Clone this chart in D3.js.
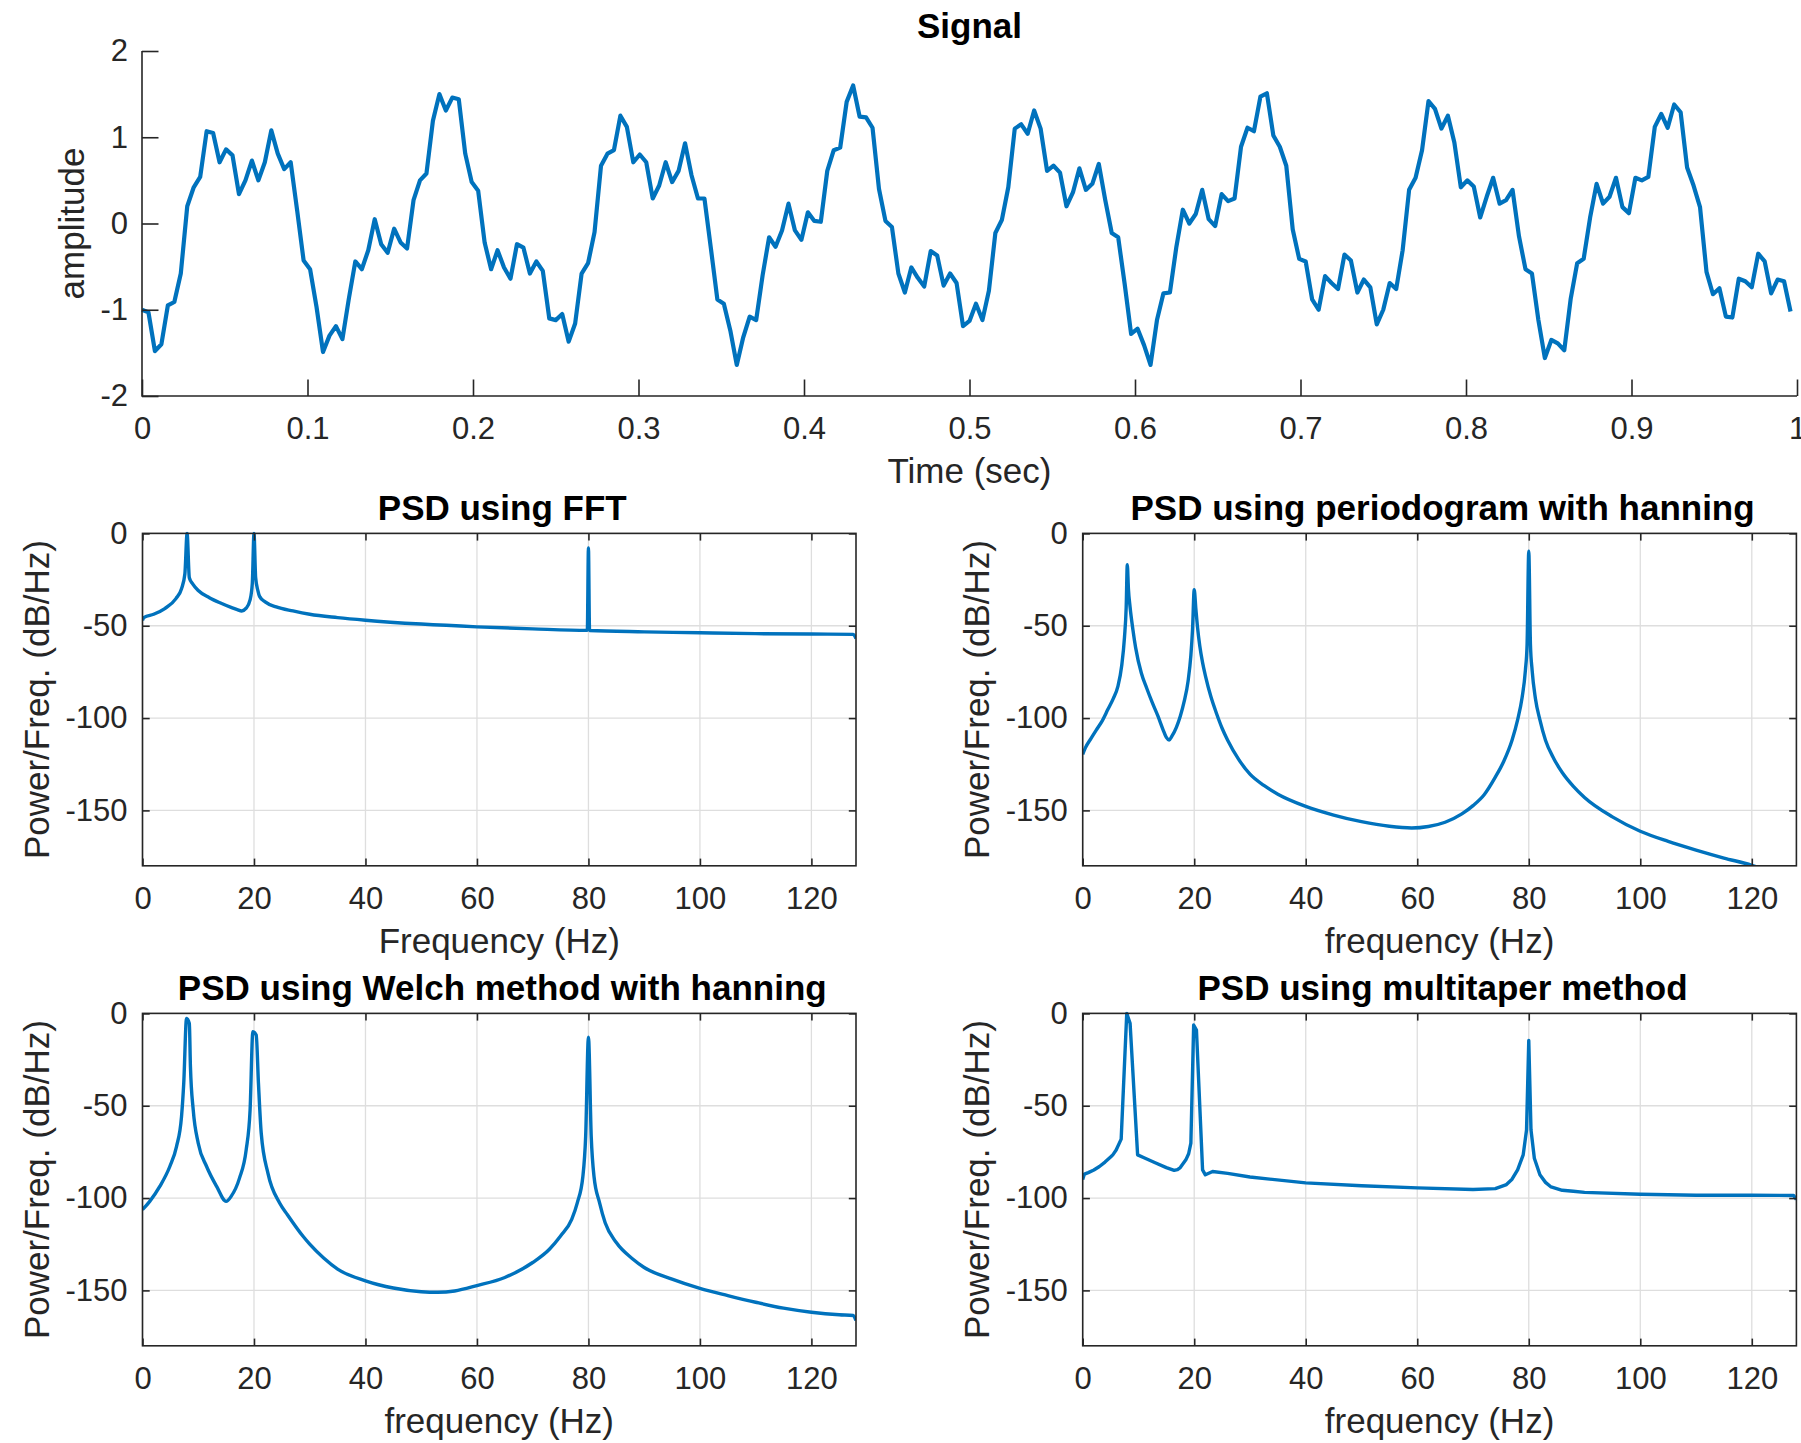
<!DOCTYPE html>
<html>
<head>
<meta charset="utf-8">
<script src="https://cdn.jsdelivr.net/npm/d3@7"></script>
<style>
  html, body { margin: 0; padding: 0; background: #fff; }
  svg { display: block; }
</style>
</head>
<body>
<svg id="chart" width="1801" height="1443"></svg>
<script>
// ---- Time-domain signal: 256 samples at 256 Hz ----
const sampleRate = 256;
const signalValues = [
  -1.00, -1.03, -1.48, -1.40, -0.95, -0.91, -0.58, 0.20, 0.42, 0.54,
  1.07, 1.05, 0.71, 0.86, 0.79, 0.34, 0.50, 0.73, 0.50, 0.71,
  1.08, 0.81, 0.63, 0.71, 0.15, -0.43, -0.53, -0.97, -1.49, -1.30,
  -1.19, -1.34, -0.87, -0.44, -0.53, -0.31, 0.05, -0.24, -0.34, -0.06,
  -0.22, -0.29, 0.27, 0.50, 0.58, 1.19, 1.50, 1.31, 1.46, 1.44,
  0.81, 0.48, 0.38, -0.22, -0.53, -0.31, -0.51, -0.64, -0.24, -0.28,
  -0.58, -0.44, -0.55, -1.10, -1.12, -1.05, -1.37, -1.16, -0.58, -0.46,
  -0.10, 0.67, 0.81, 0.85, 1.25, 1.12, 0.71, 0.80, 0.71, 0.29,
  0.44, 0.71, 0.48, 0.61, 0.93, 0.56, 0.29, 0.29, -0.29, -0.88,
  -0.93, -1.24, -1.64, -1.32, -1.08, -1.12, -0.60, -0.16, -0.27, -0.08,
  0.23, -0.08, -0.19, 0.13, 0.03, 0.02, 0.61, 0.85, 0.88, 1.41,
  1.60, 1.24, 1.23, 1.11, 0.40, 0.03, -0.04, -0.58, -0.80, -0.51,
  -0.63, -0.73, -0.32, -0.37, -0.72, -0.58, -0.69, -1.19, -1.13, -0.93,
  -1.12, -0.78, -0.11, 0.04, 0.42, 1.10, 1.15, 1.04, 1.31, 1.10,
  0.61, 0.67, 0.59, 0.20, 0.36, 0.64, 0.39, 0.46, 0.69, 0.27,
  -0.11, -0.16, -0.70, -1.28, -1.22, -1.41, -1.64, -1.12, -0.81, -0.80,
  -0.27, 0.16, 0.00, 0.11, 0.39, 0.05, -0.03, 0.34, 0.26, 0.29,
  0.89, 1.11, 1.07, 1.47, 1.51, 1.02, 0.89, 0.67, -0.07, -0.41,
  -0.44, -0.88, -1.00, -0.61, -0.69, -0.76, -0.36, -0.43, -0.80, -0.65,
  -0.74, -1.17, -1.00, -0.69, -0.76, -0.31, 0.39, 0.53, 0.85, 1.42,
  1.33, 1.10, 1.25, 0.94, 0.42, 0.50, 0.43, 0.07, 0.31, 0.53,
  0.23, 0.27, 0.39, -0.15, -0.53, -0.58, -1.12, -1.56, -1.35, -1.39,
  -1.47, -0.87, -0.46, -0.41, 0.07, 0.46, 0.23, 0.31, 0.53, 0.19,
  0.12, 0.53, 0.50, 0.54, 1.12, 1.27, 1.11, 1.38, 1.29, 0.65,
  0.44, 0.19, -0.56, -0.82, -0.75, -1.08, -1.09, -0.64, -0.67, -0.74,
  -0.35, -0.44, -0.81, -0.65, -0.67, -1.02
];
const signalTimes = signalValues.map((_, i) => i / sampleRate);

// ---- Tick values ----
const timeTicks = [0, 0.1, 0.2, 0.3, 0.4, 0.5, 0.6, 0.7, 0.8, 0.9, 1];
const ampTicks = [-2, -1, 0, 1, 2];
const freqTicks = [0, 20, 40, 60, 80, 100, 120];
const dbTicks = [-150, -100, -50, 0];

// ---- PSD estimates (Hz, dB/Hz) ----
const fftFreq = [0, 0.3, 2, 4, 6, 7, 7.6, 8, 8.4, 9, 10, 12, 14, 16, 17, 17.8, 18.6, 19.3, 19.7, 20,
  20.3, 20.7, 21, 22, 24, 27, 30, 35, 40, 50, 60, 70, 79.8, 80, 80.2, 90, 100, 110, 120, 127.5, 128];
const fftPower = [-47, -45.5, -43.8, -40.7, -35.3, -30, -22, 0, -24, -27.3, -30.9, -34.8, -37.7, -40.2, -41.3, -42, -40.5, -36, -27, 0,
  -24, -31, -34.1, -37.1, -39.8, -42, -43.8, -45.6, -47, -49.1, -50.6, -51.7, -52.5, -7.9, -52.6, -53.3, -53.8, -54.3, -54.5, -54.7, -56.9];

const pgramFreq = [0, 0.5, 1.5, 2.5, 3.5, 4.5, 5.5, 6.3, 7, 7.5, 7.8, 8, 8.2, 8.5, 9, 9.5, 10.5, 11.5, 12.5, 13.5,
  14.4, 15, 15.5, 16, 16.8, 17.5, 18.2, 18.9, 19.4, 19.7, 20, 20.3, 20.6, 21, 21.5, 22, 23, 24, 25, 26,
  28, 30, 32.5, 35, 40, 45, 50, 55, 59, 62, 65, 68, 70, 72, 74, 75.5, 77, 78, 78.8, 79.4,
  79.7, 80, 80.3, 80.6, 81.2, 82, 83, 84.5, 86, 88, 90, 95, 100, 105, 110, 115, 120, 128];
const pgramPower = [-119.6, -116, -111, -106.2, -101.5, -95.4, -89.3, -83, -71.5, -56, -40, -16.9, -30, -40, -52, -62, -75.5, -84, -91.8, -99,
  -106.2, -110.5, -111.9, -109.8, -105, -99, -91, -80, -66, -52, -30.5, -41, -51, -61, -70, -77, -88.5, -97.5, -105.5, -112,
  -122.5, -130.4, -136.5, -141.2, -147.8, -152.5, -156.1, -158.6, -159.5, -158.7, -156.4, -151.9, -147.4, -141.5, -132, -123.5, -112, -101, -89, -74,
  -60, -9.7, -60, -74, -89.5, -101, -112, -122, -129.5, -137, -143, -153.5, -161.3, -166.8, -171.5, -175.8, -179.7, -190];

const welchFreq = [0, 1.3, 3.1, 4.9, 6.1, 7, 7.4, 7.9, 8.4, 8.6, 9.1, 10, 11.5, 13.3, 15, 15.9, 17.4, 18.6, 19.3, 19.8,
  20.4, 20.8, 21.3, 22.5, 24.6, 26, 28.8, 30, 32.5, 35, 40, 45, 50, 53, 56, 60, 65, 70, 73, 75,
  77, 78, 79, 79.5, 80, 80.5, 81, 82, 83, 85, 88, 90, 95, 100, 105, 110, 115, 120, 125, 127.5, 128];
const welchPower = [-106.3, -101.8, -93.7, -82.9, -72.1, -55.9, -37.8, -2.7, -5.4, -28.8, -52.3, -70.3, -82.9, -93.7, -101.8, -99.1, -89.2, -73.9, -52.3, -9.9,
  -11.7, -37.8, -64.9, -86.5, -102.7, -109, -120.7, -125, -132.5, -138.5, -144.8, -148.7, -150.7, -151, -150.3, -147.4, -143, -134.9, -127.7, -120.5,
  -111.6, -102.6, -88.3, -66.7, -12.9, -66.7, -88.3, -102.6, -113.4, -124.1, -133.1, -137.6, -143.9, -148.9, -152.8, -156.4, -159.6, -161.8, -163.2, -163.6, -166.3];

const mtFreq = [0, 0.3, 1, 2, 3, 4, 5, 5.4, 6, 6.9, 7.9, 8.5, 9.85, 11, 13, 15, 16.4, 17, 17.5, 18.5,
  19, 19.4, 19.9, 20.4, 21.5, 22, 23.3, 26, 30, 40, 50, 60, 70, 74, 76, 77, 78, 79, 79.6, 80,
  80.4, 81, 82, 83, 84, 86, 88, 90, 100, 110, 120, 127.5, 128];
const mtPower = [-90, -87, -86.2, -84.8, -82.9, -80.5, -77.8, -76.6, -74, -68.1, 0, -5.4, -76.6, -78.2, -80.9, -83.5, -85, -84.6, -83.5, -79.3,
  -76, -70.3, -6.3, -9, -84.7, -87.4, -85.6, -86.6, -88.6, -91.8, -93.3, -94.5, -95.4, -94.9, -92.7, -89.8, -84.7, -76.6, -63.1, -14.7,
  -63.1, -78.4, -87.4, -91.5, -94, -95.8, -96.3, -96.9, -97.9, -98.5, -98.5, -98.6, -100.8];

// ---- Styling ----
const FONT = '"Liberation Sans", Arial, Helvetica, sans-serif';
const AXIS_COLOR = "#262626";
const GRID_COLOR = "#dedede";
const LINE_COLOR = "#0072BD";
const TICK_FONT = 31;
const LABEL_FONT = 35;
const fmt = d => String(d);

const svg = d3.select("#chart");
svg.append("rect").attr("width", 1801).attr("height", 1443).attr("fill", "#fff");

function styleAxis(g) {
  g.attr("font-family", FONT).attr("font-size", TICK_FONT);
  g.select(".domain").remove();
  g.selectAll(".tick line").attr("stroke", AXIS_COLOR).attr("stroke-width", 1.6);
  g.selectAll(".tick text").attr("fill", AXIS_COLOR);
}

function addTitle(text, cx, baseline) {
  svg.append("text")
    .attr("x", cx).attr("y", baseline)
    .attr("text-anchor", "middle")
    .attr("font-family", FONT).attr("font-size", LABEL_FONT).attr("font-weight", "bold")
    .attr("fill", "#000")
    .text(text);
}

function addXLabel(text, cx, baseline) {
  svg.append("text")
    .attr("x", cx).attr("y", baseline)
    .attr("text-anchor", "middle")
    .attr("font-family", FONT).attr("font-size", LABEL_FONT)
    .attr("fill", AXIS_COLOR)
    .text(text);
}

function addYLabel(text, baselineX, cy) {
  svg.append("text")
    .attr("transform", `translate(${baselineX},${cy}) rotate(-90)`)
    .attr("text-anchor", "middle")
    .attr("font-family", FONT).attr("font-size", LABEL_FONT)
    .attr("fill", AXIS_COLOR)
    .text(text);
}

// ---- Signal panel (box off, no grid) ----
(function drawSignal() {
  const box = { left: 142, right: 1797, top: 51, bottom: 396 };
  const x = d3.scaleLinear().domain([0, 1]).range([box.left, box.right]);
  const y = d3.scaleLinear().domain([-2, 2]).range([box.bottom, box.top]);
  const tick = 16.5;

  const line = d3.line()
    .x((d, i) => x(signalTimes[i]))
    .y(d => y(d));
  svg.append("path")
    .datum(signalValues)
    .attr("d", line)
    .attr("fill", "none")
    .attr("stroke", LINE_COLOR)
    .attr("stroke-width", 4.2)
    .attr("stroke-linejoin", "round")
    .attr("stroke-linecap", "butt");

  const gx = svg.append("g").attr("transform", `translate(0,${box.bottom})`)
    .call(d3.axisBottom(x).tickValues(timeTicks).tickFormat(fmt)
      .tickSizeInner(-tick).tickSizeOuter(0).tickPadding(21));
  styleAxis(gx);
  const gy = svg.append("g").attr("transform", `translate(${box.left},0)`)
    .call(d3.axisLeft(y).tickValues(ampTicks).tickFormat(fmt)
      .tickSizeInner(-tick).tickSizeOuter(0).tickPadding(14));
  styleAxis(gy);

  svg.append("path")
    .attr("d", `M${box.left},${box.top}V${box.bottom}H${box.right}`)
    .attr("fill", "none").attr("stroke", AXIS_COLOR).attr("stroke-width", 1.6);

  addTitle("Signal", (box.left + box.right) / 2, box.top - 13);
  addXLabel("Time (sec)", (box.left + box.right) / 2, box.bottom + 87);
  addYLabel("amplitude", box.left - 58, (box.top + box.bottom) / 2);
})();

// ---- PSD panels (box on, grid on) ----
const psdPanels = [
  { id: "fft", title: "PSD using FFT", xLabel: "Frequency (Hz)", freq: fftFreq, power: fftPower,
    curve: d3.curveMonotoneX, box: { left: 142.5, right: 856, top: 533.4, bottom: 865.8 } },
  { id: "pgram", title: "PSD using periodogram with hanning", xLabel: "frequency (Hz)", freq: pgramFreq, power: pgramPower,
    curve: d3.curveMonotoneX, box: { left: 1082.7, right: 1796.4, top: 533.4, bottom: 865.8 } },
  { id: "welch", title: "PSD using Welch method with hanning", xLabel: "frequency (Hz)", freq: welchFreq, power: welchPower,
    curve: d3.curveMonotoneX, box: { left: 142.5, right: 856, top: 1013.4, bottom: 1345.8 } },
  { id: "mt", title: "PSD using multitaper method", xLabel: "frequency (Hz)", freq: mtFreq, power: mtPower,
    curve: d3.curveLinear, box: { left: 1082.7, right: 1796.4, top: 1013.4, bottom: 1345.8 } }
];

psdPanels.forEach(p => {
  const b = p.box;
  const x = d3.scaleLinear().domain([0, 128]).range([b.left, b.right]);
  const y = d3.scaleLinear().domain([-180, 0]).range([b.bottom, b.top]);
  const tick = 7.2;
  const g = svg.append("g");

  // grid
  g.append("g").selectAll("line").data(freqTicks).join("line")
    .attr("x1", d => x(d)).attr("x2", d => x(d))
    .attr("y1", b.top).attr("y2", b.bottom)
    .attr("stroke", GRID_COLOR).attr("stroke-width", 1.3);
  g.append("g").selectAll("line").data(dbTicks).join("line")
    .attr("y1", d => y(d)).attr("y2", d => y(d))
    .attr("x1", b.left).attr("x2", b.right)
    .attr("stroke", GRID_COLOR).attr("stroke-width", 1.3);

  // clipped spectrum line
  const clipId = "clip-" + p.id;
  svg.append("clipPath").attr("id", clipId)
    .append("rect")
    .attr("x", b.left).attr("y", b.top - 2)
    .attr("width", b.right - b.left).attr("height", b.bottom - b.top + 2);
  const line = d3.line()
    .x((d, i) => x(p.freq[i]))
    .y(d => y(d))
    .curve(p.curve);
  g.append("path")
    .datum(p.power)
    .attr("clip-path", `url(#${clipId})`)
    .attr("d", line)
    .attr("fill", "none")
    .attr("stroke", LINE_COLOR)
    .attr("stroke-width", 3.4)
    .attr("stroke-linejoin", "round");

  // axes with inward ticks on all four sides
  const gb = g.append("g").attr("transform", `translate(0,${b.bottom})`)
    .call(d3.axisBottom(x).tickValues(freqTicks).tickFormat(fmt)
      .tickSizeInner(-tick).tickSizeOuter(0).tickPadding(21));
  styleAxis(gb);
  const gt = g.append("g").attr("transform", `translate(0,${b.top})`)
    .call(d3.axisTop(x).tickValues(freqTicks).tickFormat("")
      .tickSizeInner(-tick).tickSizeOuter(0));
  styleAxis(gt);
  const gl = g.append("g").attr("transform", `translate(${b.left},0)`)
    .call(d3.axisLeft(y).tickValues(dbTicks).tickFormat(fmt)
      .tickSizeInner(-tick).tickSizeOuter(0).tickPadding(15));
  styleAxis(gl);
  const gr = g.append("g").attr("transform", `translate(${b.right},0)`)
    .call(d3.axisRight(y).tickValues(dbTicks).tickFormat("")
      .tickSizeInner(-tick).tickSizeOuter(0));
  styleAxis(gr);

  g.append("rect")
    .attr("x", b.left).attr("y", b.top)
    .attr("width", b.right - b.left).attr("height", b.bottom - b.top)
    .attr("fill", "none").attr("stroke", AXIS_COLOR).attr("stroke-width", 1.6);

  addTitle(p.title, (b.left + b.right) / 2 + 3, b.top - 13);
  addXLabel(p.xLabel, (b.left + b.right) / 2, b.bottom + 87);
  addYLabel("Power/Freq. (dB/Hz)", b.left - 94, (b.top + b.bottom) / 2);
});
</script>
</body>
</html>
